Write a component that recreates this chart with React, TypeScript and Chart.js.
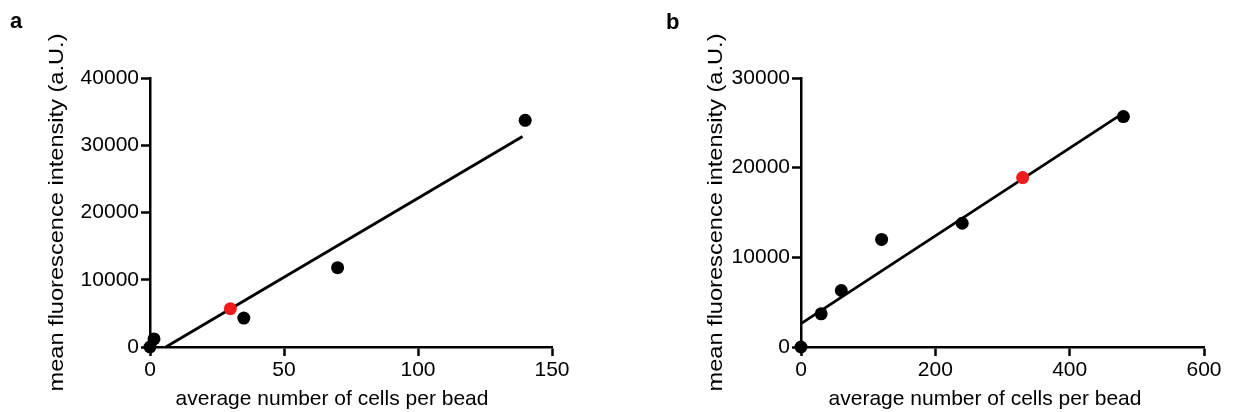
import React, { useEffect, useRef } from 'react';
import { Chart, registerables } from 'chart.js';

Chart.register(...registerables);

// ---- Panel a data ----
const aXTicks = [0, 50, 100, 150];
const aYTicks = [0, 10000, 20000, 30000, 40000];
const aCellsBlack = [0, 1.5, 35, 70, 140];
const aMfiBlack = [0, 1200, 4300, 11800, 33700];
const aCellsRed = [30];
const aMfiRed = [5700];
const aFitX = [5.9, 139];
const aFitY = [0, 31300];

// ---- Panel b data ----
const bXTicks = [0, 200, 400, 600];
const bYTicks = [0, 10000, 20000, 30000];
const bCellsBlack = [0, 30, 60, 120, 240, 480];
const bMfiBlack = [0, 3700, 6300, 12000, 13800, 25700];
const bCellsRed = [330];
const bMfiRed = [18900];
const bFitX = [0, 482];
const bFitY = [2600, 26200];

const xTitle = 'average number of cells per bead';
const yTitle = 'mean fluorescence intensity (a.U.)';

const FONT = '"Liberation Sans", Arial, Helvetica, sans-serif';
const RED = '#ee1c1c';
const H = 412;

const panelText = {
  id: 'panelText',
  afterDraw(chart: any, _args: any, opts: any) {
    const ctx = chart.ctx;
    ctx.save();
    ctx.fillStyle = '#000';
    ctx.textBaseline = 'alphabetic';
    ctx.font = `bold ${opts.letterSize}px ${FONT}`;
    ctx.textAlign = 'left';
    ctx.fillText(opts.letter, opts.letterX, opts.letterY);
    ctx.font = `${opts.titleSize}px ${FONT}`;
    ctx.textAlign = 'center';
    ctx.fillText(opts.xTitle, opts.xTitleX, opts.xTitleY);
    ctx.translate(opts.yTitleX, opts.yTitleY);
    ctx.rotate(-Math.PI / 2);
    const w = ctx.measureText(opts.yTitle).width;
    ctx.scale(opts.yTitleLength / w, 1);
    ctx.fillText(opts.yTitle, 0, 0);
    ctx.restore();
  },
};

type Layout = {
  left: number;
  width: number;
  areaLeft: number;
  areaRight: number;
  areaTop: number;
  areaBottom: number;
  xTitleX: number;
  yTitleX: number;
  letterX: number;
  letterY: number;
};

function Panel(props: {
  letter: string;
  xTicks: number[];
  yTicks: number[];
  bx: number[];
  by: number[];
  rx: number[];
  ry: number[];
  fx: number[];
  fy: number[];
  lay: Layout;
}) {
  const ref = useRef<HTMLCanvasElement>(null);
  const { letter, xTicks, yTicks, bx, by, rx, ry, fx, fy, lay } = props;

  useEffect(() => {
    if (!ref.current) return;
    const axisCommon = (ticks: number[]) => ({
      type: 'linear' as const,
      min: ticks[0],
      max: ticks[ticks.length - 1],
      afterBuildTicks: (s: any) => {
        s.ticks = ticks.map((v) => ({ value: v }));
      },
      grid: {
        drawOnChartArea: false,
        drawTicks: true,
        tickLength: 9,
        tickWidth: 2.5,
        color: '#000',
      },
      border: { display: true, color: '#000', width: 2.5 },
      ticks: {
        color: '#000',
        font: { family: FONT, size: 21 },
        padding: 2,
        maxRotation: 0,
        autoSkip: false,
        callback: (v: any) => String(v),
      },
      title: { display: false },
    });

    const chart = new Chart(ref.current, {
      type: 'scatter',
      data: {
        datasets: [
          {
            data: rx.map((x, i) => ({ x, y: ry[i] })),
            backgroundColor: RED,
            borderColor: RED,
            borderWidth: 0,
            pointRadius: 6.5,
            pointHoverRadius: 6.5,
            clip: false,
          } as any,
          {
            data: bx.map((x, i) => ({ x, y: by[i] })),
            backgroundColor: '#000',
            borderColor: '#000',
            borderWidth: 0,
            pointRadius: 6.5,
            pointHoverRadius: 6.5,
            clip: false,
          },
          {
            data: fx.map((x, i) => ({ x, y: fy[i] })),
            showLine: true,
            borderColor: '#000',
            borderWidth: 2.8,
            pointRadius: 0,
            fill: false,
            clip: false,
          },
        ],
      },
      options: {
        responsive: false,
        maintainAspectRatio: false,
        animation: false,
        events: [],
        layout: {
          padding: {
            left: 0,
            top: lay.areaTop,
            right: lay.width - lay.areaRight,
            bottom: 0,
          },
        },
        plugins: {
          legend: { display: false },
          tooltip: { enabled: false },
          panelText: {
            letter,
            letterX: lay.letterX,
            letterY: lay.letterY,
            letterSize: 22,
            titleSize: 21,
            xTitle,
            xTitleX: lay.xTitleX,
            xTitleY: 405,
            yTitle,
            yTitleX: lay.yTitleX,
            yTitleY: (lay.areaTop + lay.areaBottom) / 2,
            yTitleLength: 358,
          },
        } as any,
        scales: {
          x: {
            ...axisCommon(xTicks),
            afterFit: (s: any) => {
              s.height = H - lay.areaBottom;
            },
          },
          y: {
            ...axisCommon(yTicks),
            afterFit: (s: any) => {
              s.width = lay.areaLeft;
            },
          },
        } as any,
      },
      plugins: [panelText as any],
    });
    return () => chart.destroy();
  }, []);

  return (
    <canvas
      ref={ref}
      width={lay.width}
      height={H}
      style={{
        position: 'absolute',
        left: lay.left,
        top: 0,
        width: lay.width,
        height: H,
      }}
    />
  );
}

const layoutA: Layout = {
  left: 0,
  width: 616,
  areaLeft: 150,
  areaRight: 552,
  areaTop: 78,
  areaBottom: 347,
  xTitleX: 332,
  yTitleX: 63,
  letterX: 10,
  letterY: 28,
};

const layoutB: Layout = {
  left: 616,
  width: 617,
  areaLeft: 185,
  areaRight: 588,
  areaTop: 78,
  areaBottom: 347,
  xTitleX: 369,
  yTitleX: 106,
  letterX: 50,
  letterY: 29,
};

export default function App() {
  return (
    <div
      style={{
        position: 'absolute',
        left: 0,
        top: 0,
        width: 1233,
        height: H,
        background: '#fff',
        overflow: 'hidden',
      }}
    >
      <Panel
        letter="a"
        xTicks={aXTicks}
        yTicks={aYTicks}
        bx={aCellsBlack}
        by={aMfiBlack}
        rx={aCellsRed}
        ry={aMfiRed}
        fx={aFitX}
        fy={aFitY}
        lay={layoutA}
      />
      <Panel
        letter="b"
        xTicks={bXTicks}
        yTicks={bYTicks}
        bx={bCellsBlack}
        by={bMfiBlack}
        rx={bCellsRed}
        ry={bMfiRed}
        fx={bFitX}
        fy={bFitY}
        lay={layoutB}
      />
    </div>
  );
}
